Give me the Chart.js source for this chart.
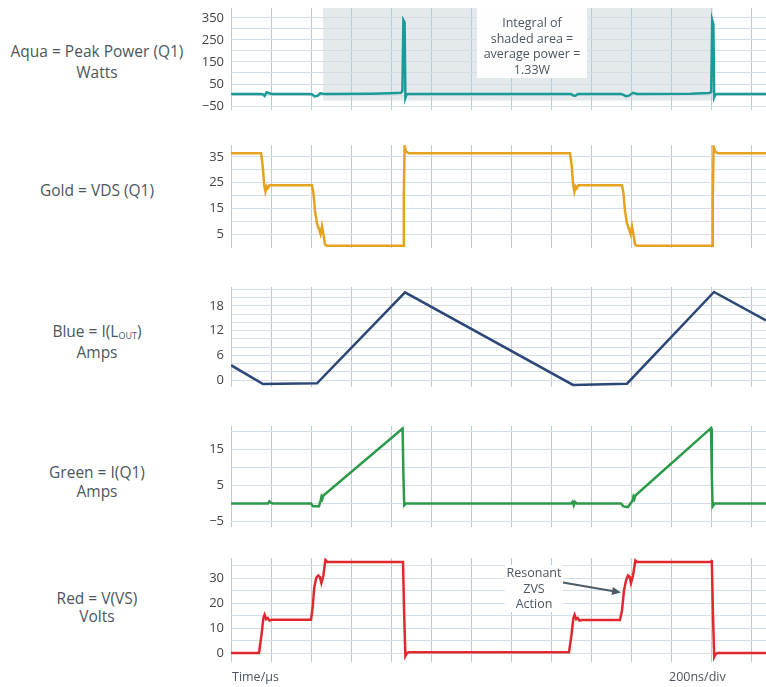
<!DOCTYPE html>
<html>
<head>
<meta charset="utf-8">
<script src="https://cdn.jsdelivr.net/npm/chart.js@4.4.1/dist/chart.umd.min.js"></script>
<style>
  html, body { margin: 0; padding: 0; background: #fff; }
  body { width: 766px; height: 687px; position: relative; overflow: hidden;
         font-family: "Open Sans", sans-serif; color: #4b5660; }
  .panel { position: absolute; left: 185px; }
  .label { position: absolute; left: 0; width: 194px; text-align: center; font-size: 15.5px; }
  .note { position: absolute; background: rgba(255,255,255,0.95); text-align: center; font-size: 12.5px; line-height: 15.5px; }
  .axisText { position: absolute; font-size: 12.5px; line-height: 16px; }
  sub { font-size: 9px; vertical-align: -2px; line-height: 0; }
</style>
</head>
<body>

<div class="label" style="top:41px; line-height:21px;">Aqua = Peak Power (Q1)<br>Watts</div>
<div class="label" style="top:180px; line-height:20px;">Gold = VDS (Q1)</div>
<div class="label" style="top:321px; line-height:21px;">Blue = I(L<sub>OUT</sub>)<br>Amps</div>
<div class="label" style="top:463px; line-height:19px;">Green = I(Q1)<br>Amps</div>
<div class="label" style="top:589px; line-height:18px;">Red = V(VS)<br>Volts</div>

<canvas id="aquaChart" class="panel"></canvas>
<canvas id="goldChart" class="panel"></canvas>
<canvas id="blueChart" class="panel"></canvas>
<canvas id="greenChart" class="panel"></canvas>
<canvas id="redChart" class="panel"></canvas>

<div class="note" style="left:477px; top:8px; width:110px; height:63px; padding-top:7px;">Integral of<br>shaded area =<br>average power =<br>1.33W</div>
<div class="note" style="left:505px; top:565px; width:58px;">Resonant<br>ZVS<br>Action</div>

<div class="axisText" style="left:232px; top:669px;">Time/µs</div>
<div class="axisText" style="left:669px; top:669px;">200ns/div</div>

<script>
// time in ns, 200 ns per division
const timeEnd = 2675;
const divStep = 200;

// Aqua = peak power (W)
const aquaTime  = [0, 150, 160, 168, 178, 190, 205, 395, 405, 418, 432, 446, 460, 480, 700, 800, 850, 857, 862, 868, 872, 878, 890,
                   1700, 1712, 1722, 1735, 1950, 1962, 1975, 1990, 2010, 2030, 2300, 2390, 2401, 2406, 2412, 2416, 2422, 2432, 2675];
const aquaWatts = [5, 5, 3, -4, 12, 8, 5, 5, 3, -6, -4, 8, 6, 5, 6, 8, 10, 20, 340, 330, -12, 4, 5,
                   5, -2, -3, 5, 5, 1, -5, -3, 10, 5, 6, 9, 14, 340, 320, -10, 3, 5, 5];
const shadedSpan = [460, 2410];
const shadeFloor = -25;

// Gold = VDS (V)
const goldTime  = [0, 150, 158, 166, 172, 178, 184, 192, 405, 412, 420, 430, 440, 448, 455, 462, 470, 480, 860, 864, 868, 876, 890,
                   1695, 1703, 1711, 1717, 1723, 1729, 1737, 1955, 1962, 1970, 1980, 1990, 1998, 2005, 2012, 2020, 2030,
                   2405, 2409, 2413, 2421, 2435, 2675];
const goldVolts = [36.4, 36.4, 32, 24, 21.5, 23.5, 22.8, 24, 24, 21, 14, 9, 7, 5, 8, 5, 1, 0.5, 0.5, 20, 39, 37, 36.4,
                   36.4, 32, 24, 21.5, 23.5, 22.8, 24, 24, 21, 14, 9, 7, 5, 8, 5, 1, 0.5,
                   0.5, 20, 39, 37, 36.4, 36.4];

// Blue = I(Lout) (A)
const blueTime = [0, 160, 430, 870, 1710, 1980, 2415, 2675];
const blueAmps = [3.6, -1, -0.8, 21.3, -1.2, -0.9, 21.4, 14.5];

// Green = I(Q1) (A)
const greenTime = [0, 185, 192, 200, 210, 400, 410, 440, 448, 452, 456, 462, 858, 862, 866, 875,
                   1700, 1708, 1714, 1720, 1728, 1950, 1962, 1985, 2008, 2012, 2016, 2022, 2400, 2404, 2408, 2418, 2675];
const greenAmps = [0, 0, 0.6, 0.2, 0, 0, -0.8, -0.8, 0.8, 1.8, 1.2, 2.2, 20.7, 8, -0.5, 0,
                   0, 0.5, -0.5, 0.4, 0, 0, -0.8, -1, 0.8, 1.8, 1.2, 2.2, 20.8, 8, -0.8, 0, 0];

// Red = V(VS) (V)
const redTime  = [0, 140, 152, 162, 168, 176, 184, 192, 205, 400, 408, 416, 426, 436, 444, 452, 462, 472, 482, 860, 866, 872, 880, 890,
                  1690, 1702, 1712, 1718, 1726, 1734, 1742, 1755, 1945, 1955, 1965, 1975, 1985, 1993, 2000, 2010, 2022, 2030,
                  2400, 2404, 2410, 2416, 2424, 2435, 2675];
const redVolts = [0, 0, 7, 14, 15.3, 13.5, 14, 13, 13.3, 13.3, 18, 26, 30, 31, 30.5, 28, 31, 37.2, 36.4, 36.4, 15, -1.2, 0, 0.3,
                  0.3, 7, 14, 15.3, 13.5, 14, 13, 13.2, 13.2, 17, 25, 29, 31, 30.5, 28, 31, 37, 36.4,
                  36.4, 37.2, 15, -1.6, -0.3, 0, 0];
const arrowFrom = [1645, 28.4];
const arrowTo   = [1950, 24.2];

const PAD = 18;
const AXIS_W = 46;
const PANEL_W = 581;

// drawn before the grid so the graticule shows through the shading
const shadePlugin = {
    id: 'shade',
    beforeDraw(chart) {
        const {ctx, chartArea, scales} = chart;
        const x0 = scales.x.getPixelForValue(shadedSpan[0]);
        const x1 = scales.x.getPixelForValue(shadedSpan[1]);
        const yb = scales.y.getPixelForValue(shadeFloor);
        ctx.save();
        ctx.fillStyle = 'rgba(150,170,180,0.26)';
        ctx.fillRect(x0, chartArea.top, x1 - x0, yb - chartArea.top);
        ctx.restore();
    }
};

const arrowPlugin = {
    id: 'zvsArrow',
    afterDatasetsDraw(chart) {
        const {ctx, scales} = chart;
        const x0 = scales.x.getPixelForValue(arrowFrom[0]), y0 = scales.y.getPixelForValue(arrowFrom[1]);
        const x1 = scales.x.getPixelForValue(arrowTo[0]), y1 = scales.y.getPixelForValue(arrowTo[1]);
        const a = Math.atan2(y1 - y0, x1 - x0);
        ctx.save();
        ctx.strokeStyle = '#4d5b66';
        ctx.fillStyle = '#4d5b66';
        ctx.lineWidth = 2;
        ctx.beginPath();
        ctx.moveTo(x0, y0);
        ctx.lineTo(x1 - 6 * Math.cos(a), y1 - 6 * Math.sin(a));
        ctx.stroke();
        ctx.beginPath();
        ctx.moveTo(x1, y1);
        ctx.lineTo(x1 - 9 * Math.cos(a) + 4 * Math.sin(a), y1 - 9 * Math.sin(a) - 4 * Math.cos(a));
        ctx.lineTo(x1 - 9 * Math.cos(a) - 4 * Math.sin(a), y1 - 9 * Math.sin(a) + 4 * Math.cos(a));
        ctx.closePath();
        ctx.fill();
        ctx.restore();
    }
};

const divTicks = [];
for (let t = 0; t <= timeEnd; t += divStep) divTicks.push(t);

function makePanel(id, p) {
    const canvas = document.getElementById(id);
    canvas.width = PANEL_W;
    canvas.height = p.bottom - p.top + 2 * PAD;
    canvas.style.top = (p.top - PAD) + 'px';
    const ctx = canvas.getContext('2d');

    return new Chart(ctx, {
        type: 'line',
        data: {
            datasets: [{
                data: p.time.map((t, i) => ({x: t, y: p.values[i]})),
                borderColor: p.color,
                borderWidth: 2.5,
                pointRadius: 0,
                tension: 0,
                fill: false
            }]
        },
        options: {
            responsive: false,
            animation: false,
            layout: { padding: { top: PAD, bottom: PAD, left: 0, right: 0 } },
            plugins: { legend: { display: false }, tooltip: { enabled: false } },
            scales: {
                x: {
                    type: 'linear',
                    min: 0,
                    max: timeEnd,
                    afterBuildTicks: s => { s.ticks = divTicks.map(v => ({value: v})); },
                    ticks: { display: false, autoSkip: false },
                    grid: { color: '#bccad5', drawTicks: false },
                    border: { display: false }
                },
                y: {
                    min: p.min,
                    max: p.max,
                    afterBuildTicks: s => { s.ticks = p.grid.map(v => ({value: v})); },
                    afterFit: s => { s.width = AXIS_W; },
                    ticks: {
                        autoSkip: false,
                        callback: v => p.labels.includes(v) ? String(v).replace('-', '\u2212') : '',
                        color: '#444',
                        padding: 7,
                        font: { family: 'Open Sans', size: 13 }
                    },
                    grid: { color: '#d3dee6', drawTicks: false },
                    border: { display: false }
                }
            }
        },
        plugins: p.plugins || []
    });
}

makePanel('aquaChart', {
    top: 8, bottom: 110, min: -68, max: 395,
    grid: [-50, 0, 50, 100, 150, 200, 250, 300, 350],
    labels: [-50, 50, 150, 250, 350],
    time: aquaTime, values: aquaWatts, color: '#1a9b97',
    plugins: [shadePlugin]
});
makePanel('goldChart', {
    top: 145, bottom: 248, min: -0.4, max: 39.6,
    grid: [5, 10, 15, 20, 25, 30, 35],
    labels: [5, 15, 25, 35],
    time: goldTime, values: goldVolts, color: '#e6a11e'
});
makePanel('blueChart', {
    top: 287, bottom: 387, min: -1.7, max: 22.6,
    grid: [0, 2, 4, 6, 8, 10, 12, 14, 16, 18, 20, 22],
    labels: [0, 6, 12, 18],
    time: blueTime, values: blueAmps, color: '#2b4778'
});
makePanel('greenChart', {
    top: 426, bottom: 527, min: -6.5, max: 21.4,
    grid: [-5, 0, 5, 10, 15, 20],
    labels: [-5, 5, 15],
    time: greenTime, values: greenAmps, color: '#2c9a4a'
});
makePanel('redChart', {
    top: 558, bottom: 662, min: -3.6, max: 38,
    grid: [0, 5, 10, 15, 20, 25, 30, 35],
    labels: [0, 10, 20, 30],
    time: redTime, values: redVolts, color: '#e0282f',
    plugins: [arrowPlugin]
});
</script>
</body>
</html>
